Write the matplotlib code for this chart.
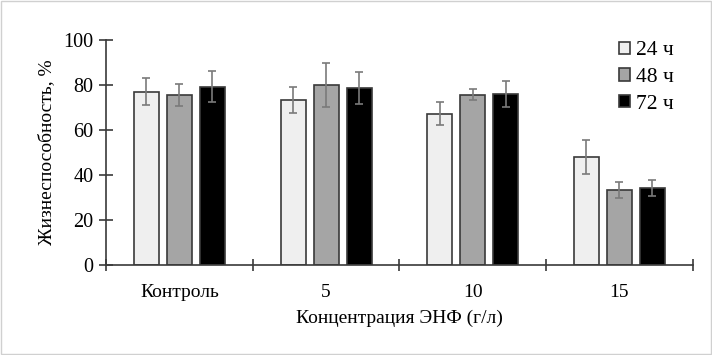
import numpy as np
import matplotlib
matplotlib.use('Agg')
from matplotlib import pyplot as plt
from matplotlib.patches import Rectangle

plt.rcParams['font.family'] = ['Liberation Serif', 'DejaVu Serif']

categories = ['Контроль', '5', '10', '15']
series = ['24 ч', '48 ч', '72 ч']
v24 = [77.0, 73.3, 67.3, 47.9]
v48 = [75.7, 80.0, 75.7, 33.3]
v72 = [79.3, 78.7, 76.0, 34.4]
e24 = [6.0, 5.8, 5.0, 7.6]
e48 = [4.8, 9.7, 2.4, 3.6]
e72 = [6.9, 7.0, 5.8, 3.5]
colors = ['#efefef', '#a5a5a5', '#000000']

fig = plt.figure(figsize=(7.12, 3.55), dpi=100)
ax = fig.add_axes([0.149, 0.2535, 0.824, 0.6335])

x = np.arange(len(categories))
w = 0.17
step = 0.225
for i, (vals, errs) in enumerate(zip([v24, v48, v72], [e24, e48, e72])):
    ax.bar(x + (i - 1) * step, vals, w, color=colors[i], edgecolor='#3a3a3a',
           linewidth=1.2, label=series[i], zorder=2)
    ax.errorbar(x + (i - 1) * step, vals, yerr=errs, fmt='none', ecolor='#7a7a7a',
                elinewidth=1.2, capsize=3, capthick=1.2, zorder=3)

ax.set_xlim(-0.5, 3.5)
ax.set_ylim(0, 100)
ax.set_yticks(np.arange(0, 101, 20))
ax.set_xticks(np.arange(-0.5, 3.6, 1.0))
ax.set_xticklabels([])
ax.set_xticks(x, minor=True)
ax.set_xticklabels(categories, minor=True)
ax.tick_params(axis='x', which='minor', length=0, pad=14, labelsize=14)
ax.tick_params(axis='x', which='major', direction='inout', length=8, width=1.2, color='#3a3a3a')
ax.tick_params(axis='y', direction='inout', length=10, width=1.2, color='#3a3a3a',
               labelsize=14.5, pad=4)

for s in ['top', 'right']:
    ax.spines[s].set_visible(False)
for s in ['left', 'bottom']:
    ax.spines[s].set_color('#3a3a3a')
    ax.spines[s].set_linewidth(1.2)

ax.set_ylabel('Жизнеспособность, %', fontsize=14, labelpad=6)
ax.set_xlabel('Концентрация ЭНФ (г/л)', fontsize=14, labelpad=6)

ax.legend(loc='upper right', bbox_to_anchor=(1.0, 1.08), frameon=False, fontsize=15.5,
          handlelength=0.5, handleheight=0.5, handletextpad=0.25, labelspacing=0.35)

fig.patches.append(Rectangle((0.002, 0.003), 0.996, 0.994, transform=fig.transFigure,
                             fill=False, edgecolor='#d0d0d0', linewidth=1))

plt.savefig('out.png', dpi=100)
